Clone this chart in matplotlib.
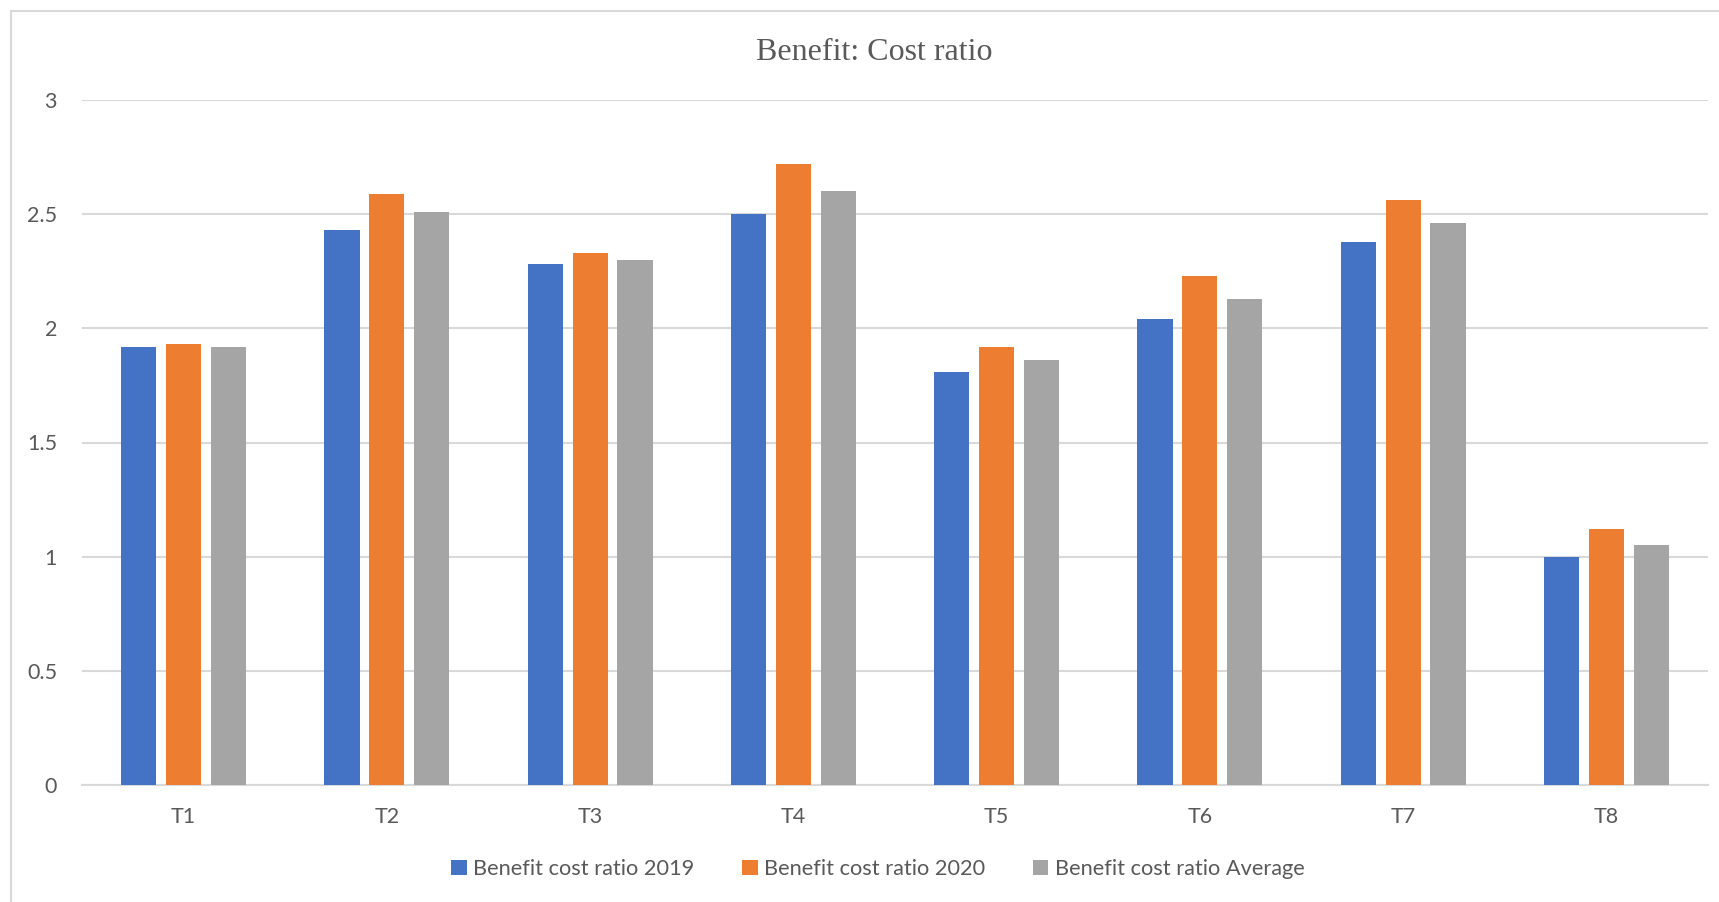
import numpy as np
import matplotlib
matplotlib.use('Agg')
import matplotlib.pyplot as plt
from matplotlib.patches import Rectangle

# values
categories = ['T1', 'T2', 'T3', 'T4', 'T5', 'T6', 'T7', 'T8']
bcr_2019 = [1.92, 2.43, 2.28, 2.50, 1.81, 2.04, 2.38, 1.00]
bcr_2020 = [1.93, 2.59, 2.33, 2.72, 1.92, 2.23, 2.56, 1.12]
bcr_avg = [1.92, 2.51, 2.30, 2.60, 1.86, 2.13, 2.46, 1.05]
series_names = ['Benefit cost ratio 2019', 'Benefit cost ratio 2020',
                'Benefit cost ratio Average']
colors = ['#4472C4', '#ED7D31', '#A5A5A5']
yticks = [0, 0.5, 1, 1.5, 2, 2.5, 3]

txt_col = '#595959'
grid_col = '#D9D9D9'

fig = plt.figure(figsize=(17.19, 9.02), dpi=100)
# chart border (only left and top visible in the crop)
fig.patches.append(Rectangle((11 / 1719, -0.1), 2, 1.1 - 11 / 902,
                             transform=fig.transFigure, fill=False,
                             edgecolor=grid_col, linewidth=1.5))

ax = fig.add_axes([82 / 1719, (902 - 785) / 902, (1708 - 82) / 1719, (785 - 100) / 902])

x = np.arange(len(categories))
w = 0.173
step = 0.221
for i, (vals, name, c) in enumerate(zip([bcr_2019, bcr_2020, bcr_avg], series_names, colors)):
    ax.bar(x + (i - 1) * step, vals, width=w, color=c, label=name, zorder=3)

ax.set_xlim(-0.5, len(categories) - 0.5)
ax.set_ylim(0, 3)
ax.set_yticks(yticks)
ax.set_yticklabels([f'{t:g}' for t in yticks])
ax.set_xticks(x)
ax.set_xticklabels(categories)
ax.yaxis.grid(True, color=grid_col, linewidth=1.5, zorder=0)
for s in ['top', 'right', 'left']:
    ax.spines[s].set_visible(False)
ax.spines['bottom'].set_color(grid_col)
ax.spines['bottom'].set_linewidth(1.5)
ax.tick_params(length=0, labelsize=15.5, labelcolor=txt_col)
ax.tick_params(axis='x', pad=16)
ax.tick_params(axis='y', pad=18)
for lab in ax.get_xticklabels() + ax.get_yticklabels():
    lab.set_family('Lato')

fig.text(874 / 1719, 1 - 53 / 902, 'Benefit: Cost ratio', ha='center', va='center',
         fontsize=23, family='Liberation Serif', color=txt_col)

leg = fig.legend(loc='center', bbox_to_anchor=(878 / 1719, 1 - 869 / 902), ncol=3,
                 frameon=False, handlelength=0.7, handleheight=0.7, handletextpad=0.3,
                 columnspacing=2.2, prop={'family': 'Lato', 'size': 15.7})
for t in leg.get_texts():
    t.set_color(txt_col)

fig.savefig('out.png', dpi=100)
